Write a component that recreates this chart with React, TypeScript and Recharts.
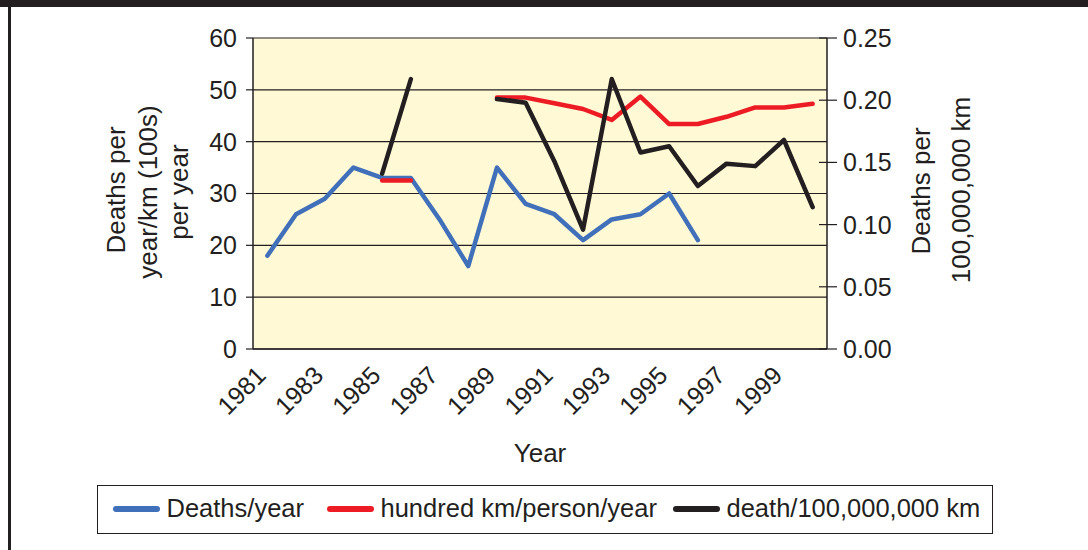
import React from 'react';
import { LineChart, Line, XAxis, YAxis, CartesianGrid } from 'recharts';

const years = ['1981', '1982', '1983', '1984', '1985', '1986', '1987', '1988', '1989', '1990',
  '1991', '1992', '1993', '1994', '1995', '1996', '1997', '1998', '1999', '2000'];
const deathsPerYear = [18, 26, 29, 35, 33, 33, 25, 16, 35, 28, 26, 21, 25, 26, 30, 21, null, null, null, null];
const hundredKm = [null, null, null, null, 32.5, 32.5, null, null, 48.5, 48.5, 47.4, 46.3, 44.2, 48.7, 43.4, 43.4, 44.8, 46.6, 46.6, 47.3];
const deathsPer100M = [null, null, null, null, 0.141, 0.217, null, null, 0.201, 0.198, 0.151, 0.096, 0.217, 0.158, 0.163, 0.131, 0.149, 0.147, 0.168, 0.114];
const leftTicks = [0, 10, 20, 30, 40, 50, 60];
const rightTicks = [0, 0.05, 0.1, 0.15, 0.2, 0.25];

const BLUE = '#4170ba';
const RED = '#ed1c24';
const BLACK = '#231f20';
const FONT = '"Liberation Sans", Arial, sans-serif';

const data = years.map((year, i) => ({
  year,
  deaths: deathsPerYear[i],
  hundredKm: hundredKm[i],
  rate: deathsPer100M[i],
}));

// tick marks between categories
const boundaryTicks = years.map((_, i) => i).concat(years.length);

const legendItems = [
  { name: 'Deaths/year', color: BLUE, left: 113 },
  { name: 'hundred km/person/year', color: RED, left: 327 },
  { name: 'death/100,000,000 km', color: BLACK, left: 673 },
];

const YearTick = (props: any) => {
  const { x, y, payload } = props;
  return (
    <text x={x} y={y} transform={`rotate(-45 ${x} ${y})`} textAnchor="end"
      fontSize={25} fill={BLACK} fontFamily={FONT}>
      {payload.value}
    </text>
  );
};

const RIGHT_TICK = 10;
const RIGHT_MARGIN = 6;
const RightTick = (props: any) => {
  const { x, y, payload } = props;
  const axisX = x - RIGHT_TICK - RIGHT_MARGIN;
  return (
    <g>
      <line x1={axisX - 8} x2={axisX} y1={y} y2={y} stroke={BLACK} strokeWidth={1.2} />
      <text x={x} y={y} dy="0.36em" textAnchor="start" fontSize={25} fill={BLACK} fontFamily={FONT}>
        {Number(payload.value).toFixed(2)}
      </text>
    </g>
  );
};

const App = () => {
  return (
    <div style={{ position: 'absolute', left: 0, top: 0, width: 1088, height: 550, background: '#fff', fontFamily: FONT }}>
      <div style={{ position: 'absolute', left: 0, top: 0, width: 1088, height: 7, background: BLACK }} />
      <div style={{ position: 'absolute', left: 8, top: 0, width: 2.5, height: 550, background: BLACK }} />

      <LineChart width={1088} height={550} data={data}
        margin={{ top: 38, right: 181, left: 193, bottom: 120 }}>
        <CartesianGrid yAxisId="left" vertical={false} fill="#fff9d6" fillOpacity={1}
          stroke={BLACK} strokeWidth={1.2} />
        <XAxis xAxisId="bounds" type="number" domain={[0, years.length]} ticks={boundaryTicks}
          allowDataOverflow tick={false} axisLine={false} height={1} tickSize={7}
          tickLine={{ stroke: BLACK, strokeWidth: 1.2 }} />
        <XAxis dataKey="year" scale="band" interval={1} height={80} tickLine={false}
          tickSize={0} tickMargin={28} tick={<YearTick />}
          axisLine={{ stroke: BLACK, strokeWidth: 1.5 }} />
        <YAxis yAxisId="left" domain={[0, 60]} ticks={leftTicks} width={60}
          tick={{ fontSize: 25, fill: BLACK, fontFamily: FONT }} tickSize={7} tickMargin={9}
          tickLine={{ stroke: BLACK, strokeWidth: 1.2 }} axisLine={{ stroke: BLACK, strokeWidth: 1.5 }} />
        <YAxis yAxisId="right" orientation="right" domain={[0, 0.25]} ticks={rightTicks} width={80}
          tick={<RightTick />} tickSize={RIGHT_TICK} tickMargin={RIGHT_MARGIN}
          tickLine={{ stroke: BLACK, strokeWidth: 1.2 }} axisLine={{ stroke: BLACK, strokeWidth: 1.5 }} />
        <Line yAxisId="left" dataKey="deaths" stroke={BLUE} strokeWidth={4.5} dot={false}
          strokeLinejoin="round" strokeLinecap="round" isAnimationActive={false} />
        <Line yAxisId="left" dataKey="hundredKm" stroke={RED} strokeWidth={4.5} dot={false}
          strokeLinejoin="round" strokeLinecap="round" isAnimationActive={false} />
        <Line yAxisId="right" dataKey="rate" stroke={BLACK} strokeWidth={4.5} dot={false}
          strokeLinejoin="round" strokeLinecap="round" isAnimationActive={false} />
      </LineChart>

      <svg width={1088} height={550} style={{ position: 'absolute', left: 0, top: 0, pointerEvents: 'none' }}>
        <g fontFamily={FONT} fontSize={26} fill={BLACK} textAnchor="middle">
          <text x={125} y={190} transform="rotate(-90 125 190)">Deaths per</text>
          <text x={157} y={192} transform="rotate(-90 157 192)">year/km (100s)</text>
          <text x={188} y={192} transform="rotate(-90 188 192)">per year</text>
          <text x={930} y={191} transform="rotate(-90 930 191)">Deaths per</text>
          <text x={970} y={190} transform="rotate(-90 970 190)">100,000,000 km</text>
          <text x={540} y={462}>Year</text>
        </g>
      </svg>

      <div style={{ position: 'absolute', left: 97, top: 485, width: 896, height: 49, boxSizing: 'border-box',
        border: `1.5px solid ${BLACK}` }}>
        {legendItems.map((item) => (
          <div key={item.name} style={{ position: 'absolute', left: item.left - 97 - 1.5, top: 0, height: 46,
            display: 'flex', alignItems: 'center' }}>
            <div style={{ width: 47, height: 6, borderRadius: 3, background: item.color, marginRight: 7 }} />
            <span style={{ fontSize: 25.5, color: BLACK, lineHeight: 1, whiteSpace: 'nowrap' }}>{item.name}</span>
          </div>
        ))}
      </div>
    </div>
  );
};

export default App;
